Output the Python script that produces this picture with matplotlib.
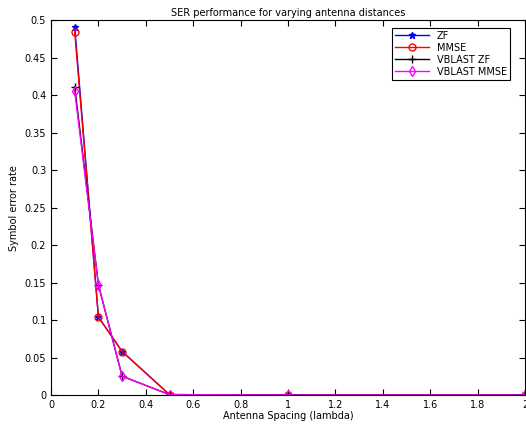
import numpy as np
import matplotlib.pyplot as plt

# antenna spacing in wavelengths
spacing = [0.1, 0.2, 0.3, 0.5, 1, 2]

ser_zf = [0.491, 0.104, 0.058, 0.0005, 0.0, 0.0]
ser_mmse = [0.484, 0.104, 0.058, 0.0005, 0.0, 0.0]
ser_vblast_zf = [0.411, 0.147, 0.025, 0.0005, 0.0, 0.0]
ser_vblast_mmse = [0.405, 0.147, 0.025, 0.0005, 0.0, 0.0]

fig = plt.figure(figsize=(5.26, 4.25), dpi=100)
ax = fig.add_axes([0.097, 0.0706, 0.901, 0.882])

ax.plot(spacing, ser_zf, '-*', color='#0000ff', lw=1, ms=5, label='ZF')
ax.plot(spacing, ser_mmse, '-o', color='#ff0000', lw=1, ms=5, mfc='none', label='MMSE')
ax.plot(spacing, ser_vblast_zf, '-+', color='k', lw=1, ms=6, label='VBLAST ZF')
ax.plot(spacing, ser_vblast_mmse, '-d', color='#ff00ff', lw=1, ms=5, mfc='none',
        label='VBLAST MMSE')

ax.set_xlim(0, 2)
ax.set_ylim(0, 0.5)
ax.set_xticks(np.arange(0, 2.01, 0.2))
ax.set_xticklabels(['0', '0.2', '0.4', '0.6', '0.8', '1', '1.2', '1.4', '1.6', '1.8', '2'])
ax.set_yticks(np.arange(0, 0.51, 0.05))
ax.set_yticklabels(['0', '0.05', '0.1', '0.15', '0.2', '0.25', '0.3', '0.35', '0.4', '0.45', '0.5'])
ax.tick_params(direction='in', labelsize=7, top=True, right=True, length=4)

ax.set_title('SER performance for varying antenna distances', fontsize=7, pad=3)
ax.set_xlabel('Antenna Spacing (lambda)', fontsize=7, labelpad=1)
ax.set_ylabel('Symbol error rate', fontsize=7, labelpad=4)

leg = ax.legend(loc='upper right', fontsize=7, fancybox=False, framealpha=1,
                edgecolor='k', borderaxespad=0.8, handlelength=3.5,
                labelspacing=0.2, borderpad=0.3, bbox_to_anchor=(0.985, 1.0))
leg.get_frame().set_linewidth(0.8)

fig.savefig('out.png', dpi=100)
